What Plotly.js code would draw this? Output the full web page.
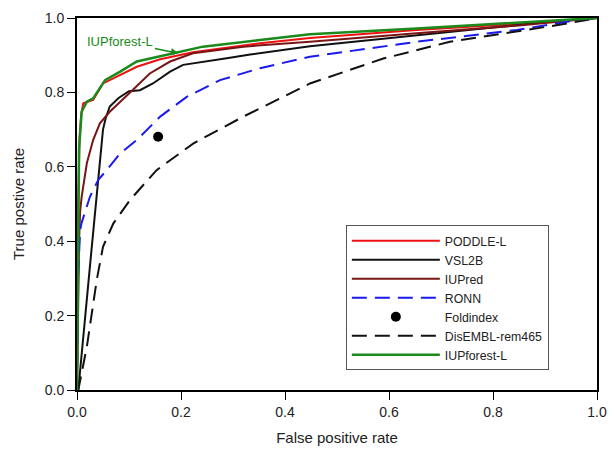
<!DOCTYPE html>
<html>
<head>
<meta charset="utf-8">
<script src="https://cdn.plot.ly/plotly-3.0.1.min.js"></script>
<style>html,body{margin:0;padding:0;background:#fff;}#chart{width:610px;height:455px;}</style>
</head>
<body>
<div id="chart"></div>
<script>
// PODDLE-L
var poddleX = [0, 0.002, 0.005, 0.008, 0.012, 0.031, 0.05, 0.083, 0.115, 0.16, 0.223, 0.352, 0.448, 0.653, 0.85, 1];
var poddleY = [0, 0.50, 0.68, 0.74, 0.771, 0.78, 0.824, 0.847, 0.869, 0.889, 0.908, 0.932, 0.946, 0.968, 0.985, 1];
// VSL2B
var vsl2bX = [0, 0.0025, 0.026, 0.041, 0.05, 0.055, 0.063, 0.08, 0.10, 0.121, 0.146, 0.179, 0.204, 0.288, 0.333, 0.448, 0.653, 0.91, 1];
var vsl2bY = [0, 0, 0.349, 0.565, 0.70, 0.73, 0.762, 0.785, 0.803, 0.806, 0.824, 0.856, 0.874, 0.892, 0.902, 0.924, 0.954, 0.99, 1];
// IUPred
var iupredX = [0, 0.002, 0.004, 0.006, 0.009, 0.019, 0.031, 0.044, 0.063, 0.10, 0.14, 0.179, 0.223, 0.32, 0.448, 0.653, 0.85, 1];
var iupredY = [0, 0.25, 0.40, 0.48, 0.52, 0.61, 0.672, 0.717, 0.748, 0.797, 0.851, 0.883, 0.905, 0.923, 0.936, 0.959, 0.98, 1];
// RONN
var ronnX = [0, 0.002, 0.006, 0.009, 0.025, 0.041, 0.057, 0.083, 0.115, 0.134, 0.16, 0.211, 0.275, 0.352, 0.448, 0.653, 0.846, 0.942, 1];
var ronnY = [0, 0.30, 0.43, 0.45, 0.52, 0.565, 0.591, 0.636, 0.672, 0.699, 0.735, 0.788, 0.833, 0.865, 0.896, 0.936, 0.968, 0.99, 1];
// Foldindex
var foldX = [0.156];
var foldY = [0.681];
// DisEMBL-rem465
var disemblX = [0, 0.0025, 0.019, 0.038, 0.05, 0.07, 0.102, 0.137, 0.153, 0.224, 0.32, 0.448, 0.589, 0.717, 0.846, 0.942, 1];
var disemblY = [0, 0, 0.117, 0.296, 0.385, 0.448, 0.511, 0.565, 0.591, 0.663, 0.735, 0.824, 0.891, 0.936, 0.963, 0.985, 1];
// IUPforest-L
var iupforestX = [0, 0.002, 0.004, 0.009, 0.019, 0.031, 0.044, 0.054, 0.083, 0.115, 0.16, 0.198, 0.242, 0.352, 0.448, 0.653, 0.85, 1];
var iupforestY = [0, 0.40, 0.65, 0.748, 0.775, 0.784, 0.811, 0.833, 0.856, 0.883, 0.897, 0.909, 0.923, 0.941, 0.956, 0.972, 0.988, 1];

var tickVals = [0, 0.2, 0.4, 0.6, 0.8, 1.0];
var tickText = ['0.0', '0.2', '0.4', '0.6', '0.8', '1.0'];

var font = 'Liberation Sans, Arial, sans-serif';

var traces = [
  {x: poddleX, y: poddleY, name: 'PODDLE-L', mode: 'lines', line: {color: '#ee1111', width: 2}},
  {x: vsl2bX, y: vsl2bY, name: 'VSL2B', mode: 'lines', line: {color: '#111111', width: 2}},
  {x: iupredX, y: iupredY, name: 'IUPred', mode: 'lines', line: {color: '#7a1515', width: 2}},
  {x: ronnX, y: ronnY, name: 'RONN', mode: 'lines', line: {color: '#1a1aee', width: 2, dash: '15px,8px'}},
  {x: foldX, y: foldY, name: 'Foldindex', mode: 'markers', marker: {color: '#000', size: 10}},
  {x: disemblX, y: disemblY, name: 'DisEMBL-rem465', mode: 'lines', line: {color: '#111111', width: 2, dash: '15px,8px'}},
  {x: iupforestX, y: iupforestY, name: 'IUPforest-L', mode: 'lines', line: {color: '#1a8a1a', width: 2.5}}
];

var layout = {
  width: 610, height: 455,
  margin: {l: 77, r: 13, t: 18, b: 65},
  paper_bgcolor: '#fff', plot_bgcolor: '#fff',
  font: {family: font, size: 14, color: '#222'},
  showlegend: true,
  legend: {
    x: 0.517, y: 0.443, xanchor: 'left', yanchor: 'top',
    bordercolor: '#555', borderwidth: 1, bgcolor: '#fff',
    font: {family: font, size: 12.3, color: '#222'},
    itemwidth: 88, tracegroupgap: 0,
    entrywidth: 238, entrywidthmode: 'pixels'
  },
  xaxis: {
    range: [0, 1], tickvals: tickVals, ticktext: tickText,
    ticks: 'outside', ticklen: 8, tickwidth: 1, tickcolor: '#000',
    showline: true, linecolor: '#000', linewidth: 2, mirror: true,
    showgrid: false, zeroline: false,
    tickfont: {family: font, size: 14, color: '#222'},
    title: {text: 'False positive rate', font: {family: font, size: 15, color: '#222'}, standoff: 14}
  },
  yaxis: {
    range: [0, 1], tickvals: tickVals, ticktext: tickText,
    ticks: 'outside', ticklen: 8, tickwidth: 1, tickcolor: '#000',
    showline: true, linecolor: '#000', linewidth: 2, mirror: true,
    showgrid: false, zeroline: false,
    tickfont: {family: font, size: 14, color: '#222'},
    title: {text: 'True postive rate', font: {family: font, size: 15, color: '#222'}, standoff: 16}
  },
  annotations: [{
    x: 0.195, y: 0.905, xref: 'x', yref: 'y',
    text: 'IUPforest-L', showarrow: true,
    ax: -58, ay: -12,
    arrowhead: 2, arrowsize: 1, arrowwidth: 1.5, arrowcolor: '#1a8a1a',
    font: {family: font, size: 13, color: '#1a8a1a'}
  }]
};

Plotly.newPlot('chart', traces, layout, {displayModeBar: false, staticPlot: true});
</script>
</body>
</html>
